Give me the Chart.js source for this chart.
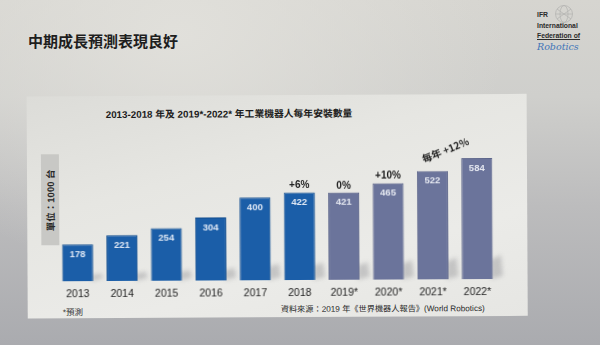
<!DOCTYPE html>
<html>
<head>
<meta charset="utf-8">
<script src="https://cdn.jsdelivr.net/npm/chart.js@4"></script>
<style>
  body {
    margin: 0;
    width: 600px;
    height: 345px;
    overflow: hidden;
    position: relative;
    font-family: "Liberation Sans", "Noto Sans CJK TC", sans-serif;
    background:
      radial-gradient(ellipse at 30% 10%, rgba(226,225,220,0.9) 0%, rgba(226,225,220,0) 55%),
      linear-gradient(to bottom, #d6d5d0 0%, #cfcfcc 28%, #bcbcbd 60%, #aaabaf 100%);
  }
  #heading {
    position: absolute;
    left: 28px;
    top: 30px;
    font-family: "Noto Sans CJK TC", sans-serif;
    font-size: 15px;
    font-weight: 700;
    color: #1e1e1e;
  }
  #logo {
    position: absolute;
    left: 537px;
    top: 10px;
    font-size: 6.8px;
    font-weight: 700;
    line-height: 10.5px;
    color: #2a2a2a;
  }
  #logo .u { text-decoration: underline; }
  #logo .r {
    font-family: "DejaVu Serif", serif;
    font-style: italic;
    font-weight: 400;
    font-size: 9.5px;
    color: #3f74b8;
  }
  #globe { position: absolute; left: 553px; top: 3px; }
  #stage {
    position: absolute;
    left: 0; top: 0;
    width: 600px; height: 345px;
    transform: rotate(-0.3deg);
  }
  #panel {
    position: absolute;
    left: 27px; top: 95px;
    width: 500px; height: 222px;
    background: linear-gradient(165deg, #dcdcd8 0%, #e6e6e2 35%, #ebebe8 70%, #e6e6e3 100%);
  }
  #title {
    position: absolute;
    left: 106px; top: 106px;
    font-size: 9.8px;
    font-weight: 700;
    color: #1c1c1c;
    white-space: nowrap;
  }
  #unit {
    position: absolute;
    left: 41px; top: 153px;
    width: 18px; height: 91px;
    background: #c8c8c5;
  }
  #unit span {
    position: absolute;
    left: 50%; top: 50%;
    transform: translate(-50%, -50%) rotate(-90deg);
    font-size: 9.5px;
    font-weight: 700;
    color: #2a2a2a;
    white-space: nowrap;
  }
  #note {
    position: absolute;
    left: 62px; top: 304px;
    font-size: 8.5px;
    color: #333;
  }
  #source {
    position: absolute;
    left: 280px; top: 302px;
    font-size: 8.2px;
    color: #2a2a2a;
    white-space: nowrap;
  }
  canvas { position: absolute; left: 0; top: 0; }
</style>
</head>
<body>
<div id="heading">中期成長預測表現良好</div>
<svg id="globe" width="22" height="20" viewBox="0 0 22 20">
  <g fill="none" stroke="#b5b5b2" stroke-width="0.8">
    <circle cx="11" cy="11" r="8.5"/>
    <ellipse cx="11" cy="11" rx="4" ry="8.5"/>
    <line x1="2.5" y1="11" x2="19.5" y2="11"/>
    <path d="M4 6 L18 16 M4 16 L18 6"/>
  </g>
</svg>
<div id="logo">IFR<br>International<br><span class="u">Federation of</span><br><span class="r">Robotics</span></div>

<div id="stage">
  <div id="panel"></div>
  <div id="title">2013-2018 年及 2019*-2022* 年工業機器人每年安裝數量</div>
  <div id="unit"><span>單位：1000 台</span></div>
  <div id="note">*預測</div>
  <div id="source">資料來源：2019 年《世界機器人報告》(World Robotics)</div>
  <canvas id="installChart" width="600" height="345"></canvas>
</div>

<script>
// yearly installations, thousands of units
const years = ['2013', '2014', '2015', '2016', '2017', '2018', '2019*', '2020*', '2021*', '2022*'];
const installs = [178, 221, 254, 304, 400, 422, 421, 465, 522, 584];
const isForecast = [false, false, false, false, false, false, true, true, true, true];
const growthLabels = ['', '', '', '', '', '+6%', '0%', '+10%', '', ''];
const trendLabel = '每年 +12%';

const actualColor = '#1b5ea8';
const actualEdge = '#104c8e';
const forecastColor = '#6b749b';
const forecastEdge = '#5b6489';

const fontFamily = '"Liberation Sans", "Noto Sans CJK TC", sans-serif';
Chart.defaults.font.family = fontFamily;

// soft grey shadow falling to the right of every bar
const barShadows = {
    id: 'barShadows',
    beforeDatasetsDraw(chart) {
        const ctx = chart.ctx;
        const bars = chart.getDatasetMeta(0).data;
        ctx.save();
        ctx.filter = 'blur(2px)';
        ctx.fillStyle = 'rgba(90, 90, 98, 0.26)';
        bars.forEach(bar => {
            const right = bar.x + bar.width / 2;
            const base = bar.base;
            const h = Math.min(24, (base - bar.y) * 0.2);
            ctx.beginPath();
            ctx.moveTo(right - 2, base);
            ctx.lineTo(right - 2, base - h * 0.8);
            ctx.lineTo(right + 8, base - h);
            ctx.lineTo(right + 10, base - 3);
            ctx.closePath();
            ctx.fill();
        });
        ctx.restore();
    }
};

// values inside the bars plus growth notes above them
const barLabels = {
    id: 'barLabels',
    afterDatasetsDraw(chart) {
        const ctx = chart.ctx;
        const bars = chart.getDatasetMeta(0).data;
        ctx.save();
        ctx.textAlign = 'center';
        ctx.textBaseline = 'middle';
        bars.forEach((bar, i) => {
            ctx.font = 'bold 9.5px ' + fontFamily;
            ctx.fillStyle = isForecast[i] ? '#e4e7f0' : '#dfe8f5';
            ctx.fillText(String(installs[i]), bar.x, bar.y + 10);
            if (growthLabels[i]) {
                ctx.font = 'bold 10px ' + fontFamily;
                ctx.fillStyle = '#1e1e1e';
                ctx.fillText(growthLabels[i], bar.x, bar.y - 7);
            }
        });
        // trend note leaning between the last two bars
        const a = bars[bars.length - 2];
        const b = bars[bars.length - 1];
        ctx.translate((a.x + b.x) / 2 - 9, b.y - 8);
        ctx.rotate(-22 * Math.PI / 180);
        ctx.font = 'bold 10px "Noto Sans CJK TC", ' + fontFamily;
        ctx.fillStyle = '#1e1e1e';
        ctx.fillText(trendLabel, 0, 0);
        ctx.restore();
    }
};

const ctx = document.getElementById('installChart').getContext('2d');
const installChart = new Chart(ctx, {
    type: 'bar',
    data: {
        labels: years,
        datasets: [{
            data: installs,
            backgroundColor: installs.map((v, i) => isForecast[i] ? forecastColor : actualColor),
            borderColor: installs.map((v, i) => isForecast[i] ? forecastEdge : actualEdge),
            borderWidth: 1,
            borderSkipped: 'bottom',
            categoryPercentage: 1.0,
            barPercentage: 0.7
        }]
    },
    options: {
        responsive: false,
        animation: false,
        devicePixelRatio: 1,
        layout: {
            padding: { left: 55, right: 101, top: 135, bottom: 45 }
        },
        plugins: {
            legend: { display: false },
            tooltip: { enabled: false }
        },
        scales: {
            x: {
                grid: { display: false, drawTicks: false },
                border: { display: false },
                ticks: {
                    color: '#222',
                    font: { size: 10.5 },
                    padding: 7,
                    maxRotation: 0
                },
                afterFit(scale) {
                    scale.height = 20;
                }
            },
            y: {
                display: false,
                min: 0,
                max: 700
            }
        }
    },
    plugins: [barShadows, barLabels]
});
</script>
</body>
</html>
